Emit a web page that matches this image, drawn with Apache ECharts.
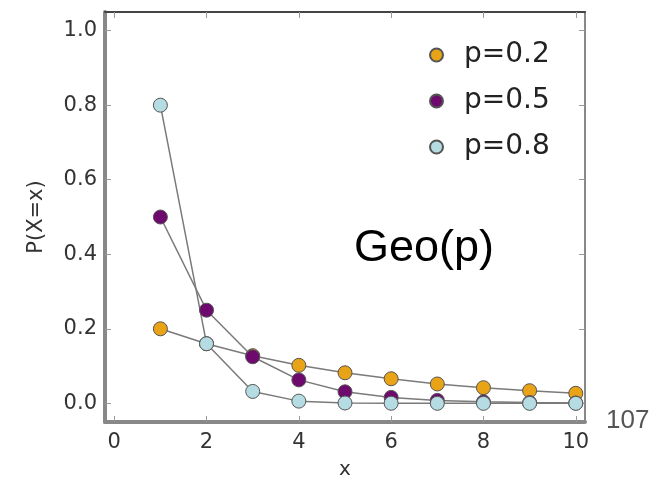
<!DOCTYPE html>
<html>
<head>
<meta charset="utf-8">
<script src="https://cdn.jsdelivr.net/npm/echarts@6/dist/echarts.min.js"></script>
<style>
  html, body { margin: 0; padding: 0; background: #fff; }
  #main { width: 660px; height: 477px; }
</style>
</head>
<body>
<div id="main"></div>
<script>
// values
var xs = [1, 2, 3, 4, 5, 6, 7, 8, 9, 10];
var p02 = [0.2, 0.16, 0.128, 0.102, 0.082, 0.066, 0.052, 0.042, 0.034, 0.027];
var p05 = [0.5, 0.25, 0.125, 0.063, 0.031, 0.016, 0.008, 0.004, 0.002, 0.001];
var p08 = [0.8, 0.16, 0.032, 0.006, 0.001, 0.0003, 0.0001, 0, 0, 0];
var xTicks = [0, 2, 4, 6, 8, 10];
var yTicks = [0, 0.2, 0.4, 0.6, 0.8, 1.0];

var dom = document.getElementById('main');
var myChart = echarts.init(dom);

function pairs(ys) {
    return xs.map(function (x, i) { return [x, ys[i]]; });
}

var frame = '#888888';
var tickFont = 'DejaVu Sans';

function mkSeries(name, ys, color) {
    return {
        name: name,
        type: 'line',
        data: pairs(ys),
        symbol: 'circle',
        symbolSize: 14,
        lineStyle: { color: '#7a7a7a', width: 1.5 },
        itemStyle: { color: color, borderColor: '#555', borderWidth: 1 },
        emphasis: { disabled: true },
        animation: false
    };
}

var option = {
    backgroundColor: '#fff',
    grid: { left: 105, right: 75, top: 12, bottom: 55, outerBoundsMode: 'none' },
    legend: {
        orient: 'vertical',
        left: 424,
        top: 36,
        itemWidth: 13,
        itemHeight: 13,
        itemGap: 18,
        icon: 'circle',
        data: ['p=0.2', 'p=0.5', 'p=0.8'],
        textStyle: { fontFamily: tickFont, fontSize: 28, color: '#222', padding: [0, 0, 0, 16] }
    },
    xAxis: [{
        type: 'value', min: -0.2, max: 10.2,
        name: 'x', nameLocation: 'middle', nameGap: 38,
        nameTextStyle: { fontFamily: tickFont, fontSize: 20, color: '#333' },
        splitLine: { show: false },
        axisLine: { show: true, onZero: false, lineStyle: { color: frame, width: 4 } },
        axisTick: { inside: true, length: 6, customValues: xTicks, lineStyle: { color: '#999' } },
        axisLabel: { customValues: xTicks, margin: 10, fontFamily: tickFont, fontSize: 21, color: '#333' }
    }, {
        type: 'value', min: -0.2, max: 10.2, position: 'top',
        splitLine: { show: false },
        axisLine: { show: true, onZero: false, lineStyle: { color: '#444', width: 2 } },
        axisTick: { inside: true, length: 6, customValues: xTicks, lineStyle: { color: '#999' } },
        axisLabel: { show: false }
    }],
    yAxis: [{
        type: 'value', min: -0.05, max: 1.05,
        name: 'P(X=x)', nameLocation: 'middle', nameGap: 58,
        nameTextStyle: { fontFamily: tickFont, fontSize: 21, color: '#333' },
        splitLine: { show: false },
        axisLine: { show: true, onZero: false, lineStyle: { color: frame, width: 4 } },
        axisTick: { inside: true, length: 6, customValues: yTicks, lineStyle: { color: '#999' } },
        axisLabel: {
            customValues: yTicks, margin: 8, fontFamily: tickFont, fontSize: 21, color: '#333',
            formatter: function (v) { return v.toFixed(1); }
        }
    }, {
        type: 'value', min: -0.05, max: 1.05, position: 'right',
        splitLine: { show: false },
        axisLine: { show: true, onZero: false, lineStyle: { color: frame, width: 2 } },
        axisTick: { inside: true, length: 6, customValues: yTicks, lineStyle: { color: '#999' } },
        axisLabel: { show: false }
    }],
    graphic: [{
        type: 'text', left: 354, top: 226,
        style: { text: 'Geo(p)', font: '45px "Liberation Sans", Arial, sans-serif', fill: '#000' }
    }, {
        type: 'text', left: 606, top: 408,
        style: { text: '107', font: '26px "Liberation Sans", Arial, sans-serif', fill: '#555' }
    }],
    series: [
        mkSeries('p=0.2', p02, '#e8a317'),
        mkSeries('p=0.5', p05, '#6e0a6e'),
        mkSeries('p=0.8', p08, '#b5dbe3')
    ]
};

if (option && typeof option === 'object') {
    myChart.setOption(option, true);
}
</script>
</body>
</html>
